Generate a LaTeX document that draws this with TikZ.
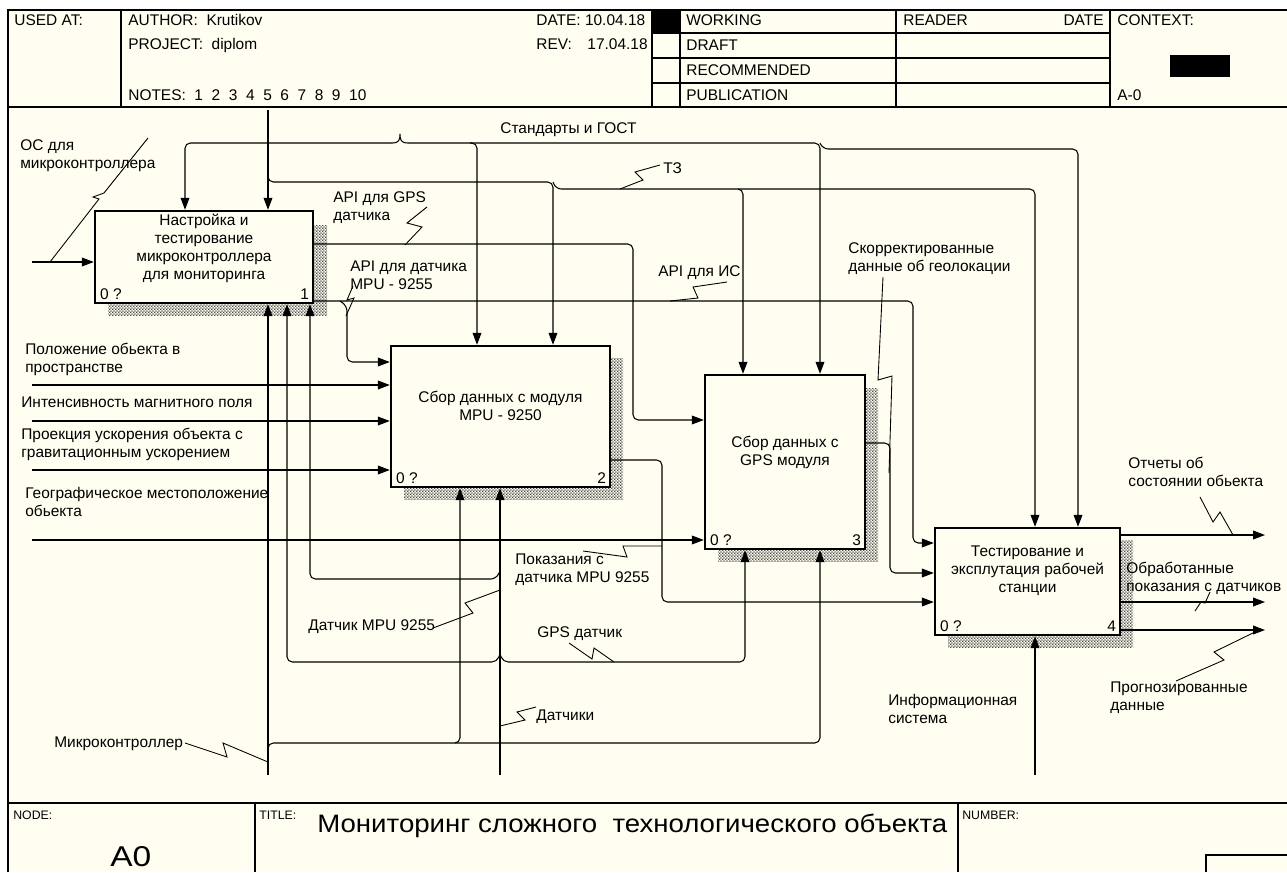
\documentclass[tikz,border=0pt]{standalone}
\usepackage{fontspec}
\usepackage{graphicx}
\setmainfont{Liberation Sans}
\usetikzlibrary{arrows.meta,patterns.meta}

\definecolor{paper}{RGB}{255,254,240}

\tikzdeclarepattern{
  name=dither,
  type=uncolored,
  bottom left={(0pt,0pt)},
  top right={(1.6pt,1.6pt)},
  tile size={(1.6pt,1.6pt)},
  code={
    \fill (0pt,0pt) rectangle (0.8pt,0.8pt);
    \fill (0.8pt,0.8pt) rectangle (1.6pt,1.6pt);
  }
}

\tikzset{
  wire/.style={line width=0.6pt},
  arr/.style={line width=0.6pt, rounded corners=3pt, -{Triangle[length=6.8pt,width=5pt]}},
  leader/.style={line width=0.5pt},
  frame/.style={line width=0.8pt},
  funcbox/.style={draw, line width=1.4pt, fill=paper, inner sep=0pt},
  hatch/.style={pattern=dither, pattern color=black!70},
  btext/.style={align=center, inner sep=0pt, font=\fontsize{8.8}{10.2}\selectfont},
  lbl/.style={align=left, inner sep=0pt, anchor=north west, font=\fontsize{8.8}{10.2}\selectfont},
  hdr/.style={inner sep=0pt, anchor=base west, font=\fontsize{8.8}{10.2}\selectfont},
  tiny/.style={inner sep=0pt, anchor=base west, font=\fontsize{7}{8}\selectfont},
  cornerno/.style={inner sep=0pt, font=\fontsize{8.8}{10.2}\selectfont},
}

\begin{document}
\begin{tikzpicture}[x=0.02cm, y=-0.02cm]

    % Page and form frame
    \useasboundingbox (0,0) rectangle (1287,872);
    \fill[white] (0,0) rectangle (1287,872);
    \fill[paper] (8,10) rectangle (1287,872);
    \draw[frame] (8,872) -- (8,10) -- (1287,10);
    \draw[frame] (8,107) -- (1287,107);
    \draw[frame] (8,803) -- (1287,803);

    % Header
    \foreach \x in {121,652,680,896,1110}
        \draw[frame] (\x,10) -- (\x,107);
    \foreach \y in {33,58,83}
        \draw[frame] (652,\y) -- (1110,\y);
    \fill (652,10) rectangle (680,33);
    \fill (1170,55) rectangle (1230,77);

    \node[hdr] (usedAt) at (14,25) {USED AT:};
    \node[hdr] (author) at (128,25) {AUTHOR:\ \ Krutikov};
    \node[hdr] (project) at (128,49) {PROJECT:\ \ diplom};
    \node[hdr] (notes) at (128,100) {NOTES:\ \ 1\ \ 2\ \ 3\ \ 4\ \ 5\ \ 6\ \ 7\ \ 8\ \ 9\ \ 10};
    \node[hdr] (date) at (536,25) {DATE:\ 10.04.18};
    \node[hdr] (rev) at (536,49) {REV:};
    \node[hdr, anchor=base east] (revDate) at (648,49) {17.04.18};
    \node[hdr] (working) at (686,25) {WORKING};
    \node[hdr] (draft) at (686,50) {DRAFT};
    \node[hdr] (recommended) at (686,75) {RECOMMENDED};
    \node[hdr] (publication) at (686,100) {PUBLICATION};
    \node[hdr] (reader) at (903,25) {READER};
    \node[hdr, anchor=base east] (readerDate) at (1104,25) {DATE};
    \node[hdr] (context) at (1117,25) {CONTEXT:};
    \node[hdr] (contextNo) at (1117,100) {A-0};

    % Footer
    \draw[frame] (255,803) -- (255,872);
    \draw[frame] (958,803) -- (958,872);
    \draw[frame] (1206,872) -- (1206,855) -- (1287,855);
    \node[tiny] (nodeHdr) at (13,819) {NODE:};
    \node[tiny] (titleHdr) at (259,819) {TITLE:};
    \node[tiny] (numberHdr) at (962,819) {NUMBER:};
    \node[inner sep=0pt, anchor=base west] (nodeNo) at (110,866) {\resizebox{0.82cm}{0.4cm}{A0}};
    \node[inner sep=0pt, anchor=base west] (titleText) at (317,832)
        {\resizebox{12.6cm}{0.37cm}{Мониторинг сложного\ \ технологического объекта}};

    % Shadows of the function blocks
    \fill[hatch] (108,225) rectangle (327,315);
    \fill[hatch] (404,358) rectangle (623,499);
    \fill[hatch] (718,388) rectangle (878,561);
    \fill[hatch] (948,540) rectangle (1133,647);

    % Function blocks
    \node[funcbox, minimum width=4.36cm, minimum height=1.84cm] (setup) at (204,257) {};
    \node[funcbox, minimum width=4.38cm, minimum height=2.82cm] (mpu) at (500.5,416.5) {};
    \node[funcbox, minimum width=3.2cm, minimum height=3.48cm] (gps) at (785,462) {};
    \node[funcbox, minimum width=3.7cm, minimum height=2.14cm] (station) at (1027.5,581.5) {};

    \node[btext] (setupText) at ([yshift=0.18cm]setup.center)
        {Настройка и\\тестирование\\микроконтроллера\\для мониторинга};
    \node[btext] (mpuText) at ([yshift=0.22cm]mpu.center) {Сбор данных с модуля\\MPU - 9250};
    \node[btext] (gpsText) at ([yshift=0.2cm]gps.center) {Сбор данных с\\GPS модуля};
    \node[btext] (stationText) at ([yshift=0.22cm]station.center)
        {Тестирование и\\эксплутация рабочей\\станции};

    \node[cornerno, anchor=base west] (setupZero) at ([shift={(0.12cm,0.09cm)}]setup.south west) {0 ?};
    \node[cornerno, anchor=base east] (setupNo) at ([shift={(-0.1cm,0.09cm)}]setup.south east) {1};
    \node[cornerno, anchor=base west] (mpuZero) at ([shift={(0.12cm,0.09cm)}]mpu.south west) {0 ?};
    \node[cornerno, anchor=base east] (mpuNo) at ([shift={(-0.1cm,0.09cm)}]mpu.south east) {2};
    \node[cornerno, anchor=base west] (gpsZero) at ([shift={(0.12cm,0.09cm)}]gps.south west) {0 ?};
    \node[cornerno, anchor=base east] (gpsNo) at ([shift={(-0.1cm,0.09cm)}]gps.south east) {3};
    \node[cornerno, anchor=base west] (stationZero) at ([shift={(0.12cm,0.09cm)}]station.south west) {0 ?};
    \node[cornerno, anchor=base east] (stationNo) at ([shift={(-0.1cm,0.09cm)}]station.south east) {4};

    % Controls: standards
    \draw[wire] (392,143) .. controls (399,143) and (400,140) .. (400,134)
                          .. controls (400,140) and (401,143) .. (408,143);
    \draw[arr] (392,143) -- (185,143) -- (185,0 |- setup.north);
    \draw[arr] (408,143) -- (820,143) -- (820,0 |- gps.north);
    \draw[arr] (470,143) -- (477,143) -- (477,0 |- mpu.north);
    \draw[arr] (820,143) -- (823,149) -- (1078,149) -- (1078,0 |- station.north);

    % Controls: technical task
    \draw[arr] (268,110) -- (268,0 |- setup.north);
    \draw[arr] (268,170) -- (268,182) -- (553,182) -- (553,0 |- mpu.north);
    \draw[arr] (553,182) -- (556,189) -- (743,189) -- (743,0 |- gps.north);
    \draw[arr] (738,189) -- (1035,189) -- (1035,0 |- station.north);

    % Inputs
    \draw[arr] (32,262) -- (setup.west |- 0,262);
    \draw[arr] (32,385) -- (mpu.west |- 0,385);
    \draw[arr] (32,421) -- (mpu.west |- 0,421);
    \draw[arr] (32,470) -- (mpu.west |- 0,470);
    \draw[arr] (32,540) -- (gps.west |- 0,540);

    % Links between blocks
    \draw[arr] (setup.east |- 0,244) -- (633,244) -- (633,420) -- (gps.west |- 0,420);
    \draw[arr] (setup.east |- 0,301) -- (913,301) -- (913,543) -- (station.west |- 0,543);
    \draw[arr] (340,301) -- (347,306) -- (347,362) -- (mpu.west |- 0,362);
    \draw[arr] (mpu.east |- 0,460) -- (662,460) -- (662,602) -- (station.west |- 0,602);
    \draw[arr] (gps.east |- 0,443) -- (890,443) -- (890,573) -- (station.west |- 0,573);

    % Outputs
    \draw[arr] (station.east |- 0,535) -- (1265,535);
    \draw[arr] (station.east |- 0,602) -- (1265,602);
    \draw[arr] (station.east |- 0,630) -- (1265,630);

    % Mechanisms
    \draw[arr] (268,775) -- (268,0 |- setup.south);
    \draw[arr] (268,752) -- (268,743) -- (460,743) -- (460,0 |- mpu.south);
    \draw[arr] (455,743) -- (820,743) -- (820,0 |- gps.south);
    \draw[arr] (500,775) -- (500,0 |- mpu.south);
    \draw[arr] (500,654) -- (497,662) -- (287,662) -- (287,0 |- setup.south);
    \draw[arr] (500,654) -- (503,662) -- (745,662) -- (745,0 |- gps.south);
    \draw[arr] (500,571) -- (496,579) -- (310,579) -- (310,0 |- setup.south);
    \draw[arr] (1035,775) -- (1035,0 |- station.south);

    % Arrow labels
    \node[lbl] (osLbl) at (20,139) {ОС для\\микроконтроллера};
    \node[lbl] (gpsApiLbl) at (333,191) {API для GPS\\датчика};
    \node[lbl] (mpuApiLbl) at (350,261) {API для датчика\\MPU - 9255};
    \node[lbl] (gostLbl) at (500,122) {Стандарты и ГОСТ};
    \node[lbl] (tzLbl) at (663,162) {ТЗ};
    \node[lbl] (isApiLbl) at (658,265) {API для ИС};
    \node[lbl] (geoFixLbl) at (848,242) {Скорректированные\\данные об геолокации};
    \node[lbl] (posLbl) at (25,343) {Положение обьекта в\\пространстве};
    \node[lbl] (magLbl) at (21,397) {Интенсивность магнитного поля};
    \node[lbl] (accLbl) at (21,428) {Проекция ускорения объекта с\\гравитационным ускорением};
    \node[lbl] (geoLbl) at (25,487) {Географическое местоположение\\обьекта};
    \node[lbl] (readLbl) at (515,554) {Показания с\\датчика MPU 9255};
    \node[lbl] (mpuSensLbl) at (308,619) {Датчик MPU 9255};
    \node[lbl] (gpsSensLbl) at (537,626) {GPS датчик};
    \node[lbl] (sensLbl) at (536,709) {Датчики};
    \node[lbl] (mcuLbl) at (54,736) {Микроконтроллер};
    \node[lbl] (isLbl) at (888,694) {Информационная\\система};
    \node[lbl] (reportLbl) at (1128,457) {Отчеты об\\состоянии обьекта};
    \node[lbl] (procLbl) at (1126,562) {Обработанные\\показания с датчиков};
    \node[lbl] (forecastLbl) at (1110,682) {Прогнозированные\\данные};

    % Squiggles from labels to arrows
    \draw[leader] (50,262) -- (99,199) -- (93,197) -- (104,193) -- (148,138);
    \draw[leader] (405,245) -- (422,227) -- (407,223) -- (427,207);
    \draw[leader] (346,316) -- (354,298) -- (347,300) -- (353,286);
    \draw[leader] (670,301) -- (698,298) -- (693,287) -- (727,282);
    \draw[leader] (620,189) -- (643,180) -- (635,172) -- (660,165);
    \draw[leader] (883,277) -- (878,380) -- (892,376) -- (889,473);
    \draw[leader] (583,551) -- (627,557) -- (623,546) -- (662,546);
    \draw[leader] (433,628) -- (473,613) -- (465,603) -- (500,590);
    \draw[leader] (569,643) -- (592,659) -- (594,648) -- (614,662);
    \draw[leader] (500,726) -- (525,720) -- (517,712) -- (536,707);
    \draw[leader] (185,743) -- (227,757) -- (223,743) -- (268,762);
    \draw[leader] (1200,497) -- (1213,522) -- (1220,512) -- (1233,535);
    \draw[leader] (1195,611) -- (1201,602) -- (1205,603) -- (1210,592);
    \draw[leader] (1176,681) -- (1224,660) -- (1214,652) -- (1259,630);

\end{tikzpicture}
\end{document}
